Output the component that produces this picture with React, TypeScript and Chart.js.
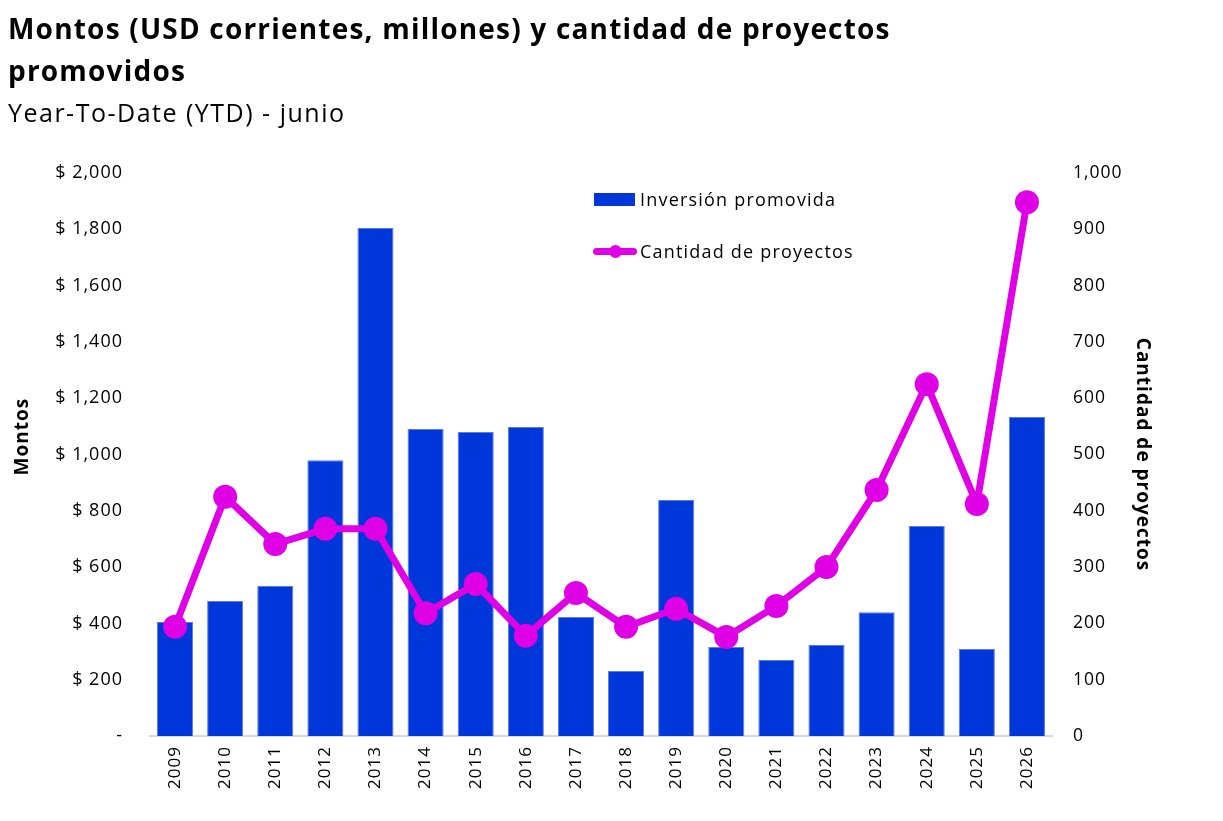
import React, { useEffect, useRef } from "react";
import { Chart, registerables } from "chart.js";

Chart.register(...registerables);

const years = ["2009","2010","2011","2012","2013","2014","2015","2016","2017","2018","2019","2020","2021","2022","2023","2024","2025","2026"];
const montos = [405, 480, 533, 980, 1805, 1091, 1080, 1098, 423, 231, 838, 316, 270, 323, 440, 746, 309, 1133];
const proyectos = [194, 425, 341, 368, 368, 218, 270, 178, 254, 194, 226, 176, 231, 300, 437, 625, 412, 948];

const BAR = "#0037DA";
const LINE = "#E000E6";
const FONT = "'Open Sans', 'DejaVu Sans', sans-serif";

const spacingPlugin = {
  id: "letterSpacing",
  beforeUpdate(chart: any) {
    chart.ctx.letterSpacing = "1px";
  },
  beforeDraw(chart: any) {
    chart.ctx.letterSpacing = "1px";
  },
};

export default function App() {
  const ref = useRef<HTMLCanvasElement | null>(null);
  useEffect(() => {
    if (!ref.current) return;
    const chart = new Chart(ref.current, {
      data: {
        labels: years,
        datasets: [
          {
            type: "line",
            label: "Cantidad de proyectos",
            data: proyectos,
            yAxisID: "y1",
            borderColor: LINE,
            backgroundColor: LINE,
            borderWidth: 7,
            pointRadius: 12,
            pointHoverRadius: 12,
            pointBackgroundColor: LINE,
            pointBorderWidth: 0,
            tension: 0,
            order: 0,
          },
          {
            type: "bar",
            label: "Inversión promovida",
            data: montos,
            yAxisID: "y",
            backgroundColor: BAR,
            borderColor: "#5b7be6",
            borderWidth: 1,
            categoryPercentage: 1,
            barPercentage: 0.72,
            order: 1,
          },
        ],
      } as any,
      plugins: [spacingPlugin],
      options: {
        animation: false,
        responsive: false,
        maintainAspectRatio: false,
        layout: { padding: { top: 173, left: 0, right: 60, bottom: 15 } },
        plugins: {
          legend: { display: false },
          tooltip: { enabled: false },
          title: { display: false },
        },
        scales: {
          x: {
            grid: { display: false, drawTicks: false },
            border: { display: true, color: "#d9d9d9", width: 2 },
            ticks: {
              color: "#000",
              font: { family: FONT, size: 17 },
              minRotation: 90,
              maxRotation: 90,
              padding: 10,
            },
            afterFit: (s: any) => { s.height = 70; },
          },
          y: {
            position: "left",
            min: 0,
            max: 2000,
            grid: { display: false, drawTicks: false },
            border: { display: false },
            ticks: {
              stepSize: 200,
              color: "#000",
              padding: 27,
              font: { family: FONT, size: 18 },
              callback: (v: any) => (Number(v) === 0 ? "-" : "$ " + Number(v).toLocaleString("en-US")),
            },
            title: {
              display: true,
              text: "      Montos",
              color: "#000",
              font: { family: FONT, size: 19, weight: "bold" },
              padding: { top: 11, bottom: 0 },
            },
            afterFit: (s: any) => { s.width = 150; },
          },
          y1: {
            position: "right",
            min: 0,
            max: 1000,
            grid: { display: false, drawTicks: false },
            border: { display: false },
            ticks: {
              stepSize: 100,
              color: "#000",
              padding: 21,
              font: { family: FONT, size: 17.5 },
              callback: (v: any) => Number(v).toLocaleString("en-US"),
            },
            title: {
              display: true,
              text: "Cantidad de proyectos",
              color: "#000",
              font: { family: FONT, size: 19, weight: "bold" },
              padding: { top: 9, bottom: 0 },
            },
            afterFit: (s: any) => { s.width = 111; },
          },
        },
      } as any,
    });
    return () => chart.destroy();
  }, []);

  return (
    <div style={{ position: "absolute", top: 0, left: 0, width: 1223, height: 821, background: "#fff", fontFamily: FONT }}>
      <canvas ref={ref} width={1223} height={821} style={{ position: "absolute", top: 0, left: 0, width: 1223, height: 821 }} />
      <div style={{ position: "absolute", left: 8, top: 7, fontSize: 28, fontWeight: 700, lineHeight: "42px", letterSpacing: "1.2px", color: "#000", width: 940 }}>
        Montos (USD corrientes, millones) y cantidad de proyectos promovidos
      </div>
      <div style={{ position: "absolute", left: 8, top: 96, fontSize: 25, fontWeight: 400, lineHeight: "32px", letterSpacing: "1.5px", color: "#000" }}>
        Year-To-Date (YTD) - junio
      </div>
      <div style={{ position: "absolute", left: 594, top: 187, display: "flex", alignItems: "center", fontSize: 18, letterSpacing: "1.2px", color: "#000" }}>
        <span style={{ display: "inline-block", width: 41, height: 13, background: BAR, marginRight: 5 }} />
        Inversión promovida
      </div>
      <div style={{ position: "absolute", left: 593, top: 239, display: "flex", alignItems: "center", fontSize: 18, letterSpacing: "1.2px", color: "#000" }}>
        <span style={{ position: "relative", display: "inline-block", width: 44, height: 7, background: LINE, borderRadius: 4, marginRight: 3 }}>
          <span style={{ position: "absolute", left: 16, top: -3, width: 13, height: 13, borderRadius: 7, background: LINE }} />
        </span>
        Cantidad de proyectos
      </div>
    </div>
  );
}
